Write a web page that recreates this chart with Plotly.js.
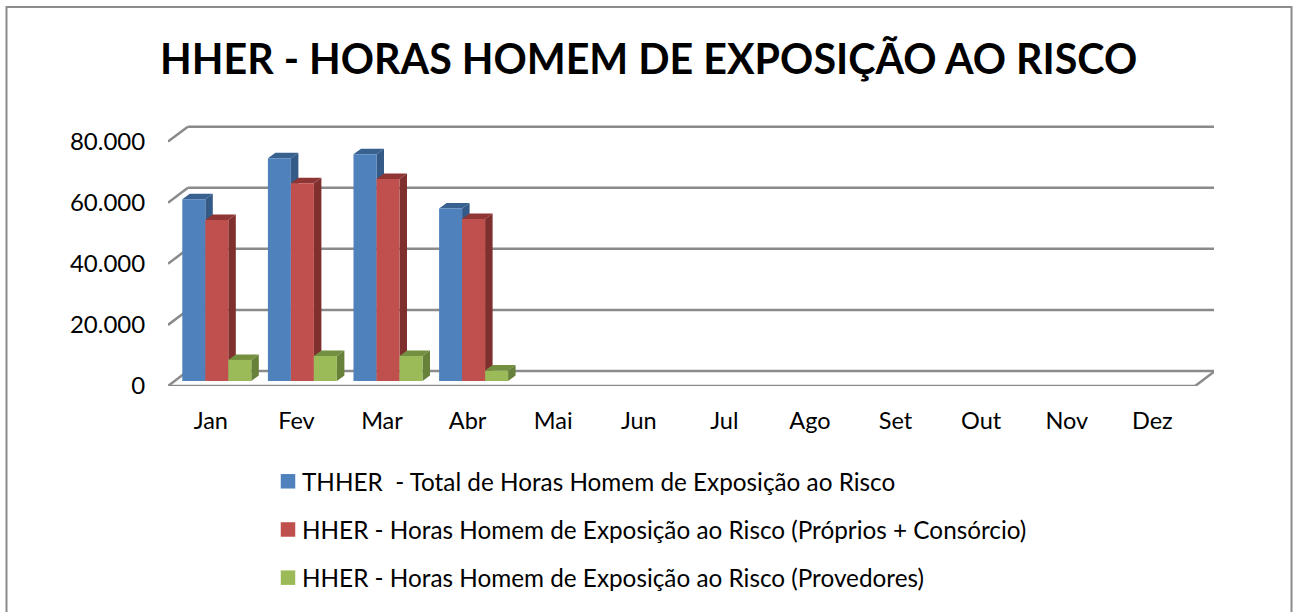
<!DOCTYPE html>
<html>
<head>
<meta charset="utf-8">
<script src="https://cdn.plot.ly/plotly-3.0.1.min.js"></script>
<style>html,body{margin:0;padding:0;background:#fff;overflow:hidden}</style>
</head>
<body>
<div id="chart" style="width:1296px;height:612px"></div>
<script>
const months = ["Jan","Fev","Mar","Abr","Mai","Jun","Jul","Ago","Set","Out","Nov","Dez"];
const totalHours = [59500,72900,74200,56500,null,null,null,null,null,null,null,null];
const ownHours = [52700,64700,66100,53000,null,null,null,null,null,null,null,null];
const providerHours = [6900,8200,8200,3400,null,null,null,null,null,null,null,null];
const yTicks = [0,20000,40000,60000,80000];
const yTickText = ["0","20.000","40.000","60.000","80.000"];
const seriesNames = [
  "THHER  - Total de Horas Homem de Exposição ao Risco",
  "HHER - Horas Homem de Exposição ao Risco (Próprios + Consórcio)",
  "HHER - Horas Homem de Exposição ao Risco (Provedores)"
];
const frontColors = ["#4f81bd","#c0504d","#9bbb59"];
const sideColors = ["#345a88","#7e2f2e","#67803a"];
const topColors = ["#38618f","#8f3533","#748f40"];
const barOffsets = [-0.333,-0.0642,0.2045];
const barWidth = 0.2687;

const xRange = [-0.5,11.72];
const yRange = [0,87725];
const barBase = 1640;
const depthX = 0.0876, depthY = 1800;
const wallX = 0.232, wallY = 4900;
const seriesValues = [totalHours,ownHours,providerHours];
const present = v => v !== null;

const traces = [];
seriesValues.forEach((vals,s) => {
  const sx=[], sy=[], tx=[], ty=[];
  vals.forEach((v,i) => {
    if(!present(v)) return;
    const l=i+barOffsets[s], r=l+barWidth, b=barBase, t=barBase+v;
    sx.push(r,r+depthX,r+depthX,r,null);
    sy.push(b,b+depthY,t+depthY,t,null);
    tx.push(l,l+depthX,r+depthX,r,null);
    ty.push(t,t+depthY,t+depthY,t,null);
  });
  [[sx,sy,sideColors[s]],[tx,ty,topColors[s]]].forEach(f => {
    traces.push({type:"scatter",mode:"lines",x:f[0],y:f[1],fill:"toself",fillcolor:f[2],
      line:{width:0,color:f[2]},hoverinfo:"skip",showlegend:false,xaxis:"x",yaxis:"y"});
  });
});
seriesValues.forEach((vals,s) => {
  traces.push({type:"bar",x:months.map((m,i)=>i),y:vals,base:barBase,width:barWidth,offset:barOffsets[s],
    name:seriesNames[s],marker:{color:frontColors[s],line:{width:0}},showlegend:false,xaxis:"x2",yaxis:"y2"});
});
seriesNames.forEach((n,s) => {
  traces.push({type:"scatter",mode:"markers",x:[-9],y:[0],name:n,legendgroup:"g"+s,
    marker:{symbol:"square",size:14.5,color:frontColors[s]},hoverinfo:"skip",cliponaxis:true,xaxis:"x",yaxis:"y"});
});

const gridLine = {color:"#8a8a8a",width:2.5};
const shapes = [];
const seg = (x0,y0,x1,y1) => shapes.push({type:"line",xref:"x",yref:"y",x0,y0,x1,y1,layer:"below",line:gridLine});
const xL = -0.5, xR = 11.5;
yTicks.forEach(v => {
  seg(xL,v,xL+wallX,v+wallY);
  seg(xL+wallX,v+wallY,xR+wallX,v+wallY);
});
seg(xL,0,xR,0);
seg(xR,0,xR+wallX,wallY);
// outer chart frame
const W=1046,H=268,ml=168,mt=118;
const px = p => (p-ml)/W, py = p => 1-(p-mt)/H;
shapes.push({type:"rect",xref:"paper",yref:"paper",x0:px(6.5),x1:px(1291.5),y0:py(7),y1:py(640),
  layer:"below",line:{color:"#8c8c8c",width:2},fillcolor:"rgba(0,0,0,0)"});

const font = "Lato, Carlito, sans-serif";
const layout = {
  width:1296,height:612,
  margin:{l:ml,r:1296-ml-W,t:mt,b:612-mt-H,pad:0,autoexpand:false},
  paper_bgcolor:"#fff",plot_bgcolor:"rgba(0,0,0,0)",
  font:{family:font,color:"#000"},
  title:{text:"<b>HHER - HORAS HOMEM DE EXPOSIÇÃO AO RISCO</b>",x:0.5005,xanchor:"center",xref:"container",
    y:0.902,yanchor:"middle",yref:"container",font:{family:font,size:41.2,color:"#000"}},
  barmode:"overlay",
  xaxis:{type:"linear",range:xRange,tickmode:"array",tickvals:months.map((m,i)=>i),ticktext:months,
    showgrid:false,zeroline:false,showline:false,ticks:"outside",ticklen:14,tickcolor:"rgba(0,0,0,0)",
    tickfont:{family:font,size:23.5,color:"#000"},fixedrange:true},
  yaxis:{type:"linear",range:yRange,tickmode:"array",tickvals:yTicks,ticktext:yTickText,
    showgrid:false,zeroline:false,showline:false,ticks:"outside",ticklen:17,tickcolor:"rgba(0,0,0,0)",
    tickfont:{family:font,size:24,color:"#000"},fixedrange:true},
  xaxis2:{type:"linear",range:xRange,overlaying:"x",anchor:"y2",visible:false,fixedrange:true},
  yaxis2:{type:"linear",range:yRange,overlaying:"y",anchor:"x2",visible:false,fixedrange:true},
  showlegend:true,
  legend:{x:px(262),xanchor:"left",y:py(459),yanchor:"top",tracegroupgap:13.6,traceorder:"grouped",
    bgcolor:"rgba(0,0,0,0)",borderwidth:0,font:{family:font,size:24.3,color:"#000"},itemwidth:30},
  shapes:shapes
};
Plotly.newPlot("chart",traces,layout,{displayModeBar:false,staticPlot:true}).then(() => {
  document.querySelectorAll("#chart .legend .legendsymbols").forEach(g => g.setAttribute("transform","translate(6,0)"));
});
</script>
</body>
</html>
